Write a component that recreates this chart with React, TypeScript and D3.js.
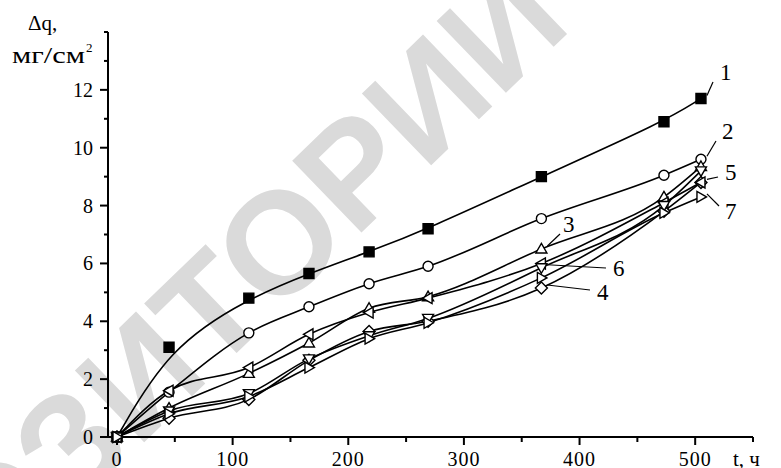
import { useEffect, useRef } from 'react'
import * as d3 from 'd3'

const WIDTH = 781
const HEIGHT = 468

const TIMES = [0, 45, 114, 166, 218, 269, 367, 473, 505]

const SERIES_1 = [0, 3.1, 4.8, 5.65, 6.4, 7.2, 9.0, 10.9, 11.7]
const SERIES_2 = [0, 1.55, 3.6, 4.5, 5.3, 5.9, 7.55, 9.05, 9.6]
const SERIES_3 = [0, 1.0, 2.2, 3.25, 4.45, 4.85, 6.5, 8.3, 9.35]
const SERIES_4 = [0, 0.65, 1.3, 2.65, 3.65, 4.0, 5.15, 7.8, 8.8]
const SERIES_5 = [0, 1.6, 2.4, 3.55, 4.3, 4.8, 6.0, 8.1, 8.8]
const SERIES_6 = [0, 0.9, 1.5, 2.7, 3.5, 4.1, 5.85, 8.0, 9.2]
const SERIES_7 = [0, 0.8, 1.4, 2.4, 3.4, 3.95, 5.5, 7.75, 8.3]

const X_TICKS = [0, 100, 200, 300, 400, 500]
const X_MINOR = [50, 150, 250, 350, 450, 550]
const Y_TICKS = [0, 2, 4, 6, 8, 10, 12]
const Y_MINOR = [1, 3, 5, 7, 9, 11, 13, 14]

const SERIES = [
  { id: '1', values: SERIES_1, marker: 'square', smooth: true },
  { id: '2', values: SERIES_2, marker: 'circle', smooth: false },
  { id: '3', values: SERIES_3, marker: 'up', smooth: false },
  { id: '4', values: SERIES_4, marker: 'diamond', smooth: false },
  { id: '5', values: SERIES_5, marker: 'left', smooth: false },
  { id: '6', values: SERIES_6, marker: 'down', smooth: false },
  { id: '7', values: SERIES_7, marker: 'right', smooth: false },
]

// label text position and the end of its leader line (in data units)
const LABELS = [
  { id: '1', x: 720, y: 80, from: [713, 82], to: [505, 11.7] },
  { id: '2', x: 722, y: 139, from: [716, 141], to: [505, 9.6] },
  { id: '3', x: 563, y: 232, from: [560, 234], to: [367, 6.5] },
  { id: '4', x: 597, y: 300, from: [590, 290], to: [367, 5.15] },
  { id: '5', x: 725, y: 180, from: [718, 177], to: [505, 8.8] },
  { id: '6', x: 613, y: 276, from: [606, 268], to: [367, 5.85] },
  { id: '7', x: 725, y: 219, from: [719, 206], to: [505, 8.3] },
]

const FONT = '"Liberation Serif", "DejaVu Serif", serif'

function markerPath(kind: string, s: number) {
  const h = s / 2
  if (kind === 'square') return `M${-h},${-h}H${h}V${h}H${-h}Z`
  if (kind === 'diamond') return `M0,${-h * 1.2}L${h * 1.2},0L0,${h * 1.2}L${-h * 1.2},0Z`
  if (kind === 'up') return `M0,${-h * 1.1}L${h * 1.1},${h * 0.8}L${-h * 1.1},${h * 0.8}Z`
  if (kind === 'down') return `M0,${h * 1.1}L${h * 1.1},${-h * 0.8}L${-h * 1.1},${-h * 0.8}Z`
  if (kind === 'left') return `M${-h * 1.1},0L${h * 0.8},${-h * 1.1}L${h * 0.8},${h * 1.1}Z`
  if (kind === 'right') return `M${h * 1.1},0L${-h * 0.8},${-h * 1.1}L${-h * 0.8},${h * 1.1}Z`
  return ''
}

export default function App() {
  const svgRef = useRef<SVGSVGElement | null>(null)

  useEffect(() => {
    const svg = d3.select(svgRef.current)
    svg.selectAll('*').remove()

    const x = d3.scaleLinear().domain([0, 550]).range([117, 753])
    const y = d3.scaleLinear().domain([0, 14]).range([437, 32])
    const axisLeft = 108

    // watermark
    const wm = svg
      .append('g')
      .attr('transform', 'translate(72,512) rotate(-44)')
      .attr('fill', '#dadada')
      .attr('font-family', '"Liberation Sans", Arial, sans-serif')
      .attr('font-weight', 700)
      .attr('font-size', 145)
    wm.append('text').attr('text-anchor', 'start').text('ЗИТОРИЙ')
    wm.append('text').attr('text-anchor', 'end').text('РЕПО')

    const axes = svg.append('g').attr('stroke', '#000').attr('stroke-width', 2)
    axes.append('line').attr('x1', axisLeft).attr('x2', axisLeft).attr('y1', y(14)).attr('y2', y(0))
    axes.append('line').attr('x1', axisLeft).attr('x2', x(550)).attr('y1', y(0)).attr('y2', y(0))

    axes
      .selectAll('.ymaj')
      .data(Y_TICKS)
      .join('line')
      .attr('x1', axisLeft - 8)
      .attr('x2', axisLeft)
      .attr('y1', (d) => y(d))
      .attr('y2', (d) => y(d))
    axes
      .selectAll('.ymin')
      .data(Y_MINOR)
      .join('line')
      .attr('x1', axisLeft - 4)
      .attr('x2', axisLeft)
      .attr('y1', (d) => y(d))
      .attr('y2', (d) => y(d))
    axes
      .selectAll('.xmaj')
      .data(X_TICKS)
      .join('line')
      .attr('x1', (d) => x(d))
      .attr('x2', (d) => x(d))
      .attr('y1', y(0))
      .attr('y2', y(0) + 8)
    axes
      .selectAll('.xmin')
      .data(X_MINOR)
      .join('line')
      .attr('x1', (d) => x(d))
      .attr('x2', (d) => x(d))
      .attr('y1', y(0))
      .attr('y2', y(0) + 5)

    const text = svg.append('g').attr('font-family', FONT).attr('fill', '#000')

    text
      .selectAll('.yl')
      .data(Y_TICKS)
      .join('text')
      .attr('x', 93)
      .attr('y', (d) => y(d) + 7)
      .attr('text-anchor', 'end')
      .attr('font-size', 20)
      .text((d) => d)
    text
      .selectAll('.xl')
      .data(X_TICKS)
      .join('text')
      .attr('x', (d) => x(d))
      .attr('y', 466)
      .attr('text-anchor', 'middle')
      .attr('font-size', 20)
      .attr('letter-spacing', 1)
      .text((d) => d)

    text.append('text').attr('x', 28).attr('y', 30).attr('font-size', 21).text('Δq,')
    text
      .append('text')
      .attr('x', 12)
      .attr('y', 63)
      .attr('font-size', 23)
      .attr('textLength', 73)
      .attr('lengthAdjust', 'spacingAndGlyphs')
      .text('мг/см')
    text.append('text').attr('x', 86).attr('y', 52).attr('font-size', 13).text('2')
    text.append('text').attr('x', 733).attr('y', 466).attr('font-size', 21).text('t, ч')

    const smoothLine = d3
      .line<[number, number]>()
      .x((d) => x(d[0]))
      .y((d) => y(d[1]))
      .curve(d3.curveBasis)
    const line = d3
      .line<[number, number]>()
      .x((d) => x(d[0]))
      .y((d) => y(d[1]))
      .curve(d3.curveMonotoneX)

    const plot = svg.append('g')
    SERIES.forEach((series) => {
      const pts = TIMES.map((t, i) => [t, series.values[i]] as [number, number])
      plot
        .append('path')
        .datum(pts)
        .attr('fill', 'none')
        .attr('stroke', '#000')
        .attr('stroke-width', 1.6)
        .attr('d', series.smooth ? smoothLine : line)
    })
    SERIES.forEach((series) => {
      const pts = TIMES.map((t, i) => [t, series.values[i]] as [number, number])
      const g = plot.append('g')
      if (series.marker === 'circle') {
        g.selectAll('circle')
          .data(pts)
          .join('circle')
          .attr('cx', (d) => x(d[0]))
          .attr('cy', (d) => y(d[1]))
          .attr('r', 5)
          .attr('fill', '#fff')
          .attr('stroke', '#000')
          .attr('stroke-width', 1.4)
      } else {
        g.selectAll('path')
          .data(pts)
          .join('path')
          .attr('transform', (d) => `translate(${x(d[0])},${y(d[1])})`)
          .attr('d', markerPath(series.marker, 10))
          .attr('fill', series.marker === 'square' ? '#000' : '#fff')
          .attr('stroke', '#000')
          .attr('stroke-width', 1.4)
      }
    })

    const labels = svg.append('g')
    labels
      .selectAll('line')
      .data(LABELS)
      .join('line')
      .attr('x1', (d) => d.from[0])
      .attr('y1', (d) => d.from[1])
      .attr('x2', (d) => x(d.to[0]) + 6)
      .attr('y2', (d) => y(d.to[1]) - 3)
      .attr('stroke', '#000')
      .attr('stroke-width', 1.2)
    labels
      .selectAll('text')
      .data(LABELS)
      .join('text')
      .attr('x', (d) => d.x)
      .attr('y', (d) => d.y)
      .attr('font-family', FONT)
      .attr('font-size', 23)
      .text((d) => d.id)
  }, [])

  return (
    <svg
      ref={svgRef}
      width={WIDTH}
      height={HEIGHT}
      style={{ position: 'absolute', left: 0, top: 0, background: '#fff' }}
    />
  )
}
